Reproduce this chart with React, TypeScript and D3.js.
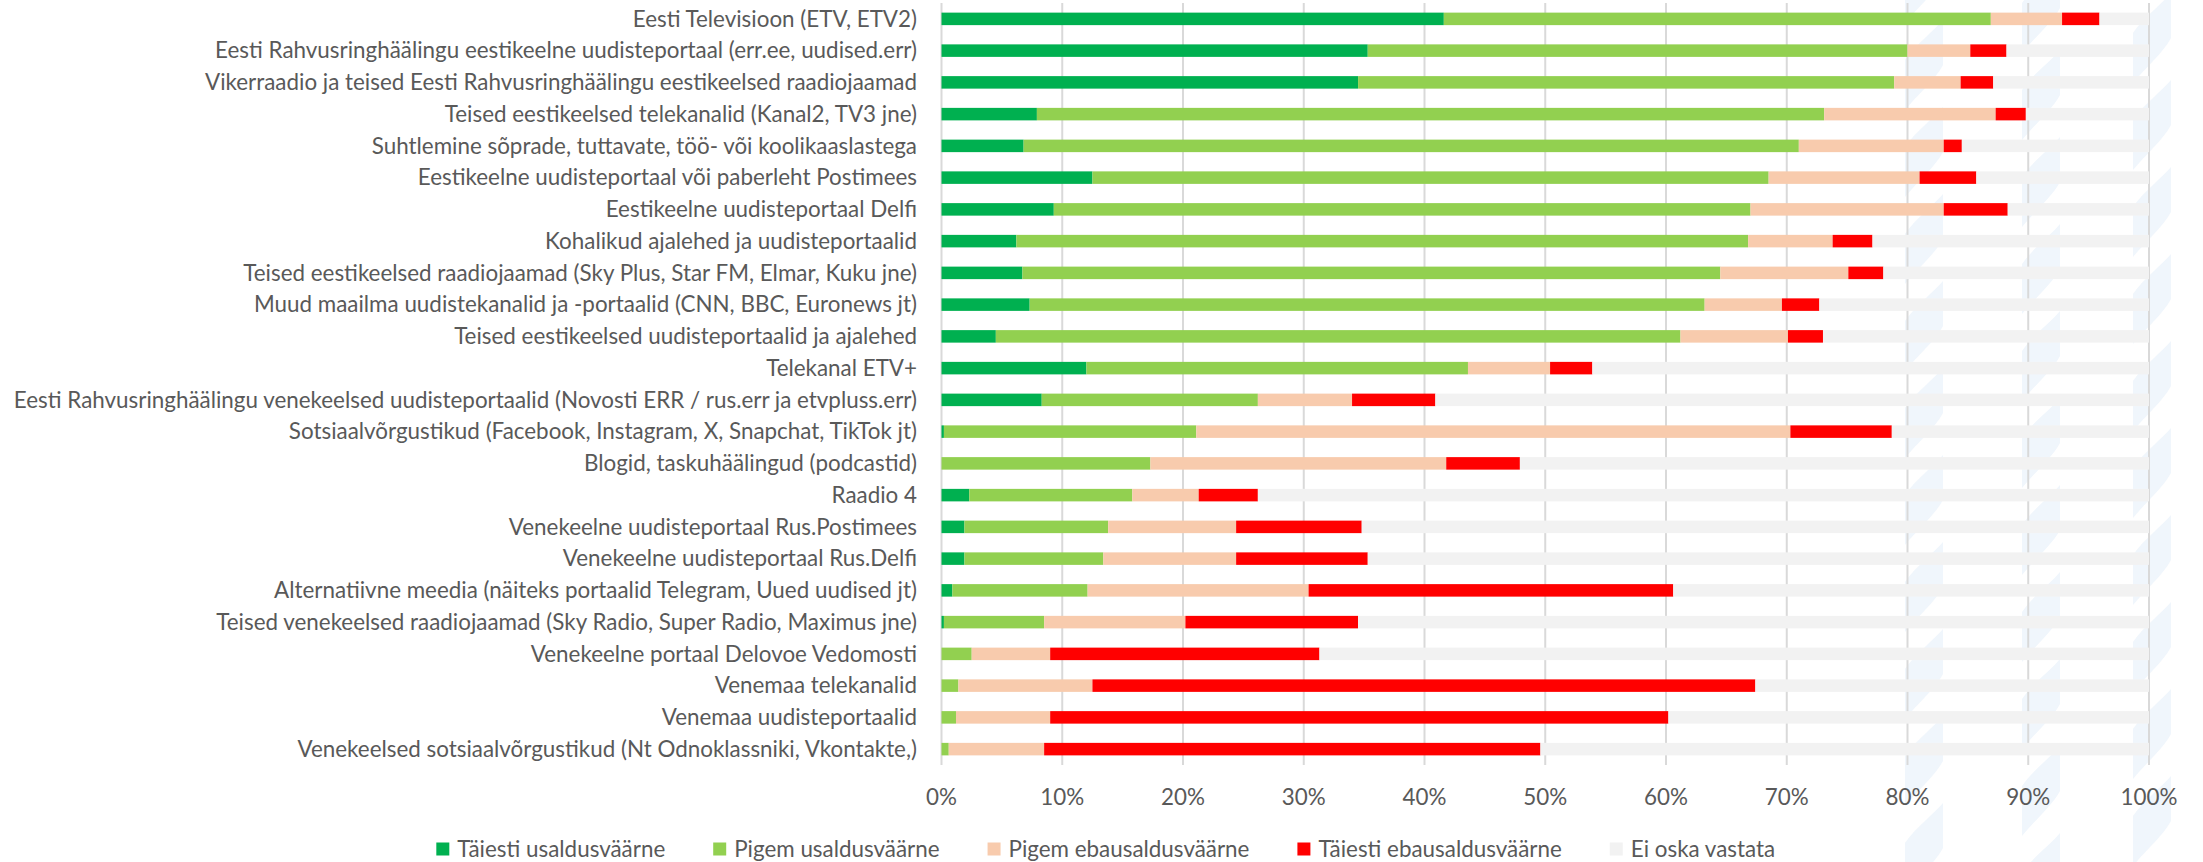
import React from "react";
import * as d3 from "d3";

const categories = [
  "Eesti Televisioon (ETV, ETV2)",
  "Eesti Rahvusringhäälingu eestikeelne uudisteportaal (err.ee, uudised.err)",
  "Vikerraadio ja teised Eesti Rahvusringhäälingu eestikeelsed raadiojaamad",
  "Teised eestikeelsed telekanalid (Kanal2, TV3 jne)",
  "Suhtlemine sõprade, tuttavate, töö- või koolikaaslastega",
  "Eestikeelne uudisteportaal või paberleht Postimees",
  "Eestikeelne uudisteportaal Delfi",
  "Kohalikud ajalehed ja uudisteportaalid",
  "Teised eestikeelsed raadiojaamad (Sky Plus, Star FM, Elmar, Kuku jne)",
  "Muud maailma uudistekanalid ja -portaalid (CNN, BBC, Euronews jt)",
  "Teised eestikeelsed uudisteportaalid ja ajalehed",
  "Telekanal ETV+",
  "Eesti Rahvusringhäälingu venekeelsed uudisteportaalid (Novosti ERR / rus.err ja etvpluss.err)",
  "Sotsiaalvõrgustikud (Facebook, Instagram, X, Snapchat, TikTok jt)",
  "Blogid, taskuhäälingud (podcastid)",
  "Raadio 4",
  "Venekeelne uudisteportaal Rus.Postimees",
  "Venekeelne uudisteportaal Rus.Delfi",
  "Alternatiivne meedia (näiteks portaalid Telegram, Uued uudised jt)",
  "Teised venekeelsed raadiojaamad (Sky Radio, Super Radio, Maximus jne)",
  "Venekeelne portaal Delovoe Vedomosti",
  "Venemaa telekanalid",
  "Venemaa uudisteportaalid",
  "Venekeelsed sotsiaalvõrgustikud (Nt Odnoklassniki, Vkontakte,)",
];

const seriesNames = [
  "Täiesti usaldusväärne",
  "Pigem usaldusväärne",
  "Pigem ebausaldusväärne",
  "Täiesti ebausaldusväärne",
  "Ei oska vastata",
];

const taiestiUsaldusvaarne = [41.6, 35.3, 34.5, 7.9, 6.8, 12.5, 9.3, 6.2, 6.7, 7.3, 4.5, 12.0, 8.3, 0.2, 0, 2.3, 1.9, 1.9, 0.9, 0.2, 0, 0, 0, 0];
const pigemUsaldusvaarne = [45.3, 44.7, 44.4, 65.2, 64.2, 56.0, 57.7, 60.6, 57.8, 55.9, 56.7, 31.6, 17.9, 20.9, 17.3, 13.5, 11.9, 11.5, 11.2, 8.3, 2.5, 1.4, 1.2, 0.6];
const pigemEbausaldusvaarne = [5.9, 5.2, 5.5, 14.2, 12.0, 12.5, 16.0, 7.0, 10.6, 6.4, 8.9, 6.8, 7.8, 49.2, 24.5, 5.5, 10.6, 11.0, 18.3, 11.7, 6.5, 11.1, 7.8, 7.9];
const taiestiEbausaldusvaarne = [3.1, 3.0, 2.7, 2.5, 1.5, 4.7, 5.3, 3.3, 2.9, 3.1, 2.9, 3.5, 6.9, 8.4, 6.1, 4.9, 10.4, 10.9, 30.2, 14.3, 22.3, 54.9, 51.2, 41.1];
const eiOskaVastata = [4.1, 11.8, 12.9, 10.2, 15.5, 14.3, 11.7, 22.9, 22.0, 27.3, 27.0, 46.1, 59.1, 21.3, 52.1, 73.8, 65.2, 64.7, 39.4, 65.5, 68.7, 32.6, 39.8, 50.4];

const xTicks = [0, 10, 20, 30, 40, 50, 60, 70, 80, 90, 100];

const colors = ["#00B050", "#92D050", "#F8CBAD", "#FF0000", "#F2F2F2"];

const W = 2203;
const H = 862;
const FONT = "Lato, 'Open Sans', sans-serif";
const FS = 22.4;
const TEXT = "#595959";

function measure(text: string, size: number) {
  if (typeof document === "undefined") return text.length * size * 0.45;
  const c = document.createElement("canvas");
  const ctx = c.getContext("2d");
  if (!ctx) return text.length * size * 0.45;
  ctx.font = `${size}px Lato`;
  return ctx.measureText(text).width;
}

export default function App() {
  const allSeries = [taiestiUsaldusvaarne, pigemUsaldusvaarne, pigemEbausaldusvaarne, taiestiEbausaldusvaarne, eiOskaVastata];
  const rows = categories.map((c, i) => {
    const r: any = { cat: c };
    seriesNames.forEach((s, k) => (r[s] = allSeries[k][i]));
    return r;
  });
  const stack = d3.stack().keys(seriesNames)(rows);

  const x = d3.scaleLinear().domain([0, 100]).range([941.5, 2149]);
  const y = d3.scaleBand().domain(categories).range([3, 765]).paddingInner(0.606).paddingOuter(0.303);

  // legend layout
  const sq = 13;
  const sqGap = 8;
  const itemGap = 48;
  const widths = seriesNames.map((s) => measure(s, FS));
  const itemWidths = widths.map((w) => sq + sqGap + w);
  const total = d3.sum(itemWidths) + itemGap * (seriesNames.length - 1);
  let cursor = 1106 - total / 2;
  const legendX = itemWidths.map((w) => {
    const p = cursor;
    cursor += w + itemGap;
    return p;
  });
  const legendY = 849;

  // decorative faint ribbons on right side
  const decoCols = [1905, 2022, 2133];
  const decoRows = d3.range(-1, 10);

  return (
    <svg width={W} height={H} style={{ position: "absolute", left: 0, top: 0, background: "#fff" }} fontFamily={FONT}>
      <g fill="#F0F6FC">
        {decoCols.map((cx, ci) =>
          decoRows.map((r) => {
            const y0 = r * 87 + 20 + ci * 30;
            return (
              <path
                key={`${ci}-${r}`}
                d={`M${cx},${y0 + 90} L${cx},${y0 + 40} C${cx + 10},${y0 + 25} ${cx + 30},${y0 + 10} ${cx + 38},${y0} L${cx + 38},${y0 + 45} C${cx + 30},${y0 + 60} ${cx + 12},${y0 + 75} ${cx},${y0 + 90} Z`}
              />
            );
          })
        )}
      </g>
      <g>
        {xTicks.map((t) => (
          <line key={t} x1={x(t)} x2={x(t)} y1={3} y2={765} stroke="#D9D9D9" strokeWidth={2} />
        ))}
      </g>
      {stack.map((s, k) => (
        <g key={s.key} fill={colors[k]}>
          {s.map((d: any, i: number) => (
            <rect
              key={i}
              x={x(d[0])}
              width={Math.max(0, x(d[1]) - x(d[0]))}
              y={y(categories[i])}
              height={y.bandwidth()}
            />
          ))}
        </g>
      ))}
      <g fontSize={FS} fill={TEXT} textAnchor="end">
        {categories.map((c) => (
          <text key={c} x={917} y={(y(c) as number) + y.bandwidth() / 2} dy="0.35em">
            {c}
          </text>
        ))}
      </g>
      <g fontSize={FS} fill={TEXT} textAnchor="middle">
        {xTicks.map((t) => (
          <text key={t} x={x(t)} y={797} dy="0.35em">
            {`${t}%`}
          </text>
        ))}
      </g>
      <g fontSize={FS} fill={TEXT}>
        {seriesNames.map((s, k) => (
          <g key={s} transform={`translate(${legendX[k]},${legendY})`}>
            <rect x={0} y={-sq / 2} width={sq} height={sq} fill={colors[k]} />
            <text x={sq + sqGap} y={0} dy="0.35em">
              {s}
            </text>
          </g>
        ))}
      </g>
    </svg>
  );
}
